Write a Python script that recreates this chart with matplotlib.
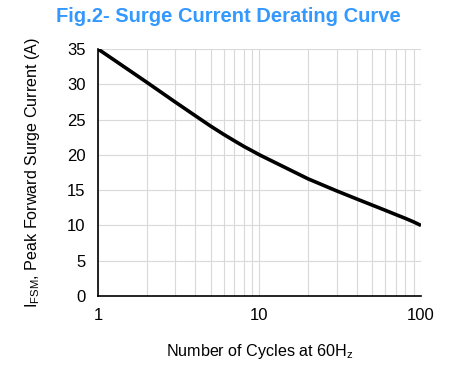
import matplotlib.pyplot as plt
import numpy as np

# values
cycles = [1, 2, 3, 4, 5, 6, 7, 8, 9, 10, 20, 30, 40, 50, 60, 70, 80, 90, 100]
current = [35, 30.3, 27.5, 25.55, 24.05, 22.9, 21.98, 21.2, 20.57, 20.0,
           16.6, 14.9, 13.75, 12.87, 12.15, 11.53, 11.0, 10.5, 10.0]

plt.rcParams['font.family'] = ['Liberation Sans', 'DejaVu Sans']

fig = plt.figure(figsize=(4.56, 3.72), dpi=100)
ax = fig.add_axes([98/456, 1-296/372, 323/456, 247/372])

ax.plot(cycles, current, color='black', lw=2.6, solid_capstyle='butt')
ax.set_xscale('log')
ax.set_xlim(1, 100)
ax.set_ylim(0, 35)
ax.set_yticks(np.arange(0, 36, 5))
ax.set_xticks([1, 10, 100])
ax.set_xticklabels(['1', '10', '100'])
ax.grid(True, which='major', color='#d9d9d9', lw=0.8)
ax.grid(True, which='minor', axis='x', color='#d9d9d9', lw=0.8)
ax.tick_params(which='both', length=0, labelsize=12, pad=9)
for s in ['top', 'right']:
    ax.spines[s].set_visible(False)
for s in ['left', 'bottom']:
    ax.spines[s].set_linewidth(1.2)
ax.set_axisbelow(True)

ax.set_xlabel('Number of Cycles at 60H$_\\mathregular{z}$', fontsize=11.6, labelpad=13)
ax.set_ylabel('I$_\\mathregular{FSM}$, Peak Forward Surge Current (A)', fontsize=11.6, labelpad=18)
fig.text(0.5, 1-17/372, 'Fig.2- Surge Current Derating Curve', color='#3399ff',
         fontsize=14.5, fontweight='bold', ha='center', va='center')

plt.savefig('out.png', dpi=100)
plt.close()
